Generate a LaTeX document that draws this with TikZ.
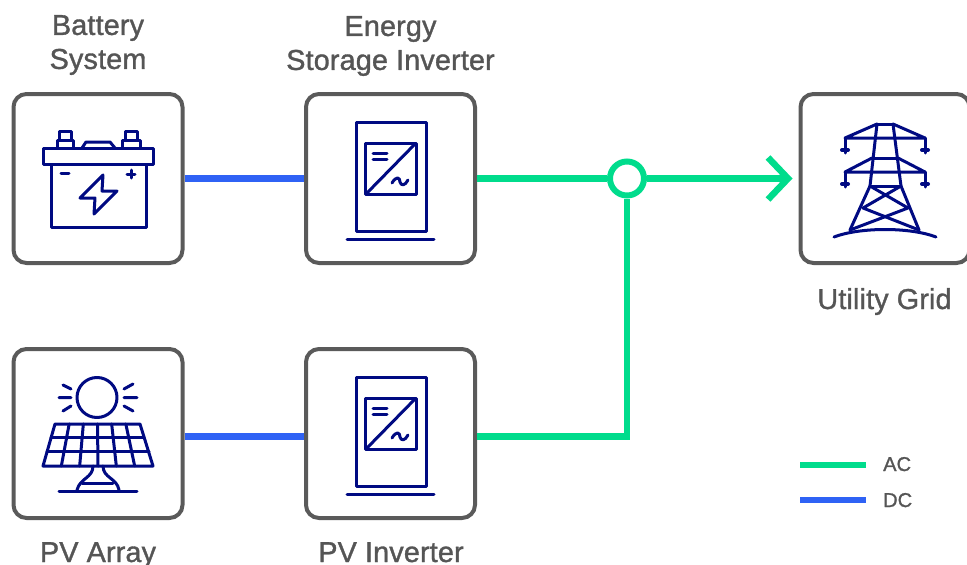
\documentclass[tikz,border=0pt]{standalone}
\usepackage{fontspec}
\setmainfont[FakeBold=1.2,LetterSpace=0.5]{Liberation Sans}
\usetikzlibrary{positioning,arrows.meta}
\definecolor{acgreen}{HTML}{00DC8C}
\definecolor{dcblue}{HTML}{2F62F5}
\definecolor{iconnavy}{HTML}{000A82}
\definecolor{boxgray}{HTML}{5A5A5A}
\definecolor{textgray}{HTML}{555555}
\tikzset{
  unit/.style={draw=boxgray,line width=4pt,rounded corners=13pt,minimum size=169pt,inner sep=0pt},
  caption/.style={text=textgray,font=\fontsize{28.8}{34}\selectfont,align=center,inner sep=0pt},
  keytext/.style={text=textgray,font=\fontsize{20}{24}\selectfont,inner sep=0pt,anchor=base west},
  acline/.style={acgreen,line width=6.5pt},
  dcline/.style={dcblue,line width=6.5pt},
  icon/.style={iconnavy,line width=3pt,line join=round,line cap=round},
}
% inverter icon, #1 is the vertical offset
\newcommand{\invertericon}[1]{
  \begin{scope}[icon,yshift=-#1pt]
    \draw (356,122) rectangle (426,231);
    \draw (365,143) rectangle (416,194);
    \draw (367,193) -- (415,144);
    \draw (373,153) -- (387,153);
    \draw (373,159) -- (387,159);
    \draw (392,183) .. controls (396,176) and (400,177) .. (400,182) .. controls (401,186) and (405,186) .. (408,180);
    \draw (347,239) -- (434,239);
  \end{scope}
}
\begin{document}
\begin{tikzpicture}[x=1pt,y=-1pt]
  \useasboundingbox (0,0) rectangle (967,565);
  \node[unit] (battery) at (98,178.5) {};
  \node[unit,right=119.5pt of battery] (storage) {};
  \node[unit,below=82pt of battery] (array) {};
  \node[unit,right=119.5pt of array] (pvinverter) {};
  \node[unit,right=321.5pt of storage] (grid) {};
  \node[caption] (batterytext) at (98,45) {Battery\\System};
  \node[caption] (storagetext) at (390.5,46) {Energy\\Storage Inverter};
  \node[caption,anchor=base] (gridtext) at (884.5,309) {Utility Grid};
  \node[caption,anchor=base] (arraytext) at (98,562) {PV Array};
  \node[caption,anchor=base] (invertertext) at (391,562) {PV Inverter};
  % connectors
  \node[draw=acgreen,line width=6pt,circle,fill=white,minimum size=34pt,inner sep=0pt] (junction) at (627,178.5) {};
  \draw[dcline] (battery.east) -- (storage.west);
  \draw[dcline] ([yshift=-3pt]array.east) -- ([yshift=-3pt]pvinverter.west);
  \draw[acline] (storage.east) -- (junction.west);
  \draw[acline] ([yshift=-3pt]pvinverter.east) -| (junction.south);
  \draw[acline,-{Straight Barb[length=20pt,width=42pt]},shorten >=6pt] (junction.east) -- (grid.west);
  % legend
  \coordinate (acstart) at (800,465);
  \coordinate[right=66pt of acstart] (acend);
  \coordinate (dcstart) at (800,500);
  \coordinate[right=66pt of dcstart] (dcend);
  \draw[acline] (acstart) -- (acend);
  \draw[dcline] (dcstart) -- (dcend);
  \node[keytext] (actext) at ([xshift=17pt,yshift=-6pt]acend) {AC};
  \node[keytext] (dctext) at ([xshift=17pt,yshift=-7pt]dcend) {DC};
  % battery icon
  \begin{scope}[icon]
    \draw (51,164) rectangle (146,227);
    \draw (43,148) rectangle (153,164);
    \draw (57,148) -- (57,140) -- (73,140) -- (73,148);
    \draw (59,140) -- (59,131) -- (71,131) -- (71,140);
    \draw (122,148) -- (122,140) -- (140,140) -- (140,148);
    \draw (125,140) -- (125,131) -- (137,131) -- (137,140);
    \draw (82,148) -- (86,142) -- (110,142) -- (115,148);
    \draw (61,173.5) -- (69,173.5);
    \draw (127,174) -- (135,174) (131,170) -- (131,178);
    \draw (103,175) -- (80,198) -- (95,198) -- (94,214) -- (117,191) -- (102,191) -- cycle;
  \end{scope}
  \invertericon{0}
  \invertericon{255}
  % tower icon
  \begin{scope}[icon]
    \draw (877,124) -- (893,124);
    \draw (877,124) -- (845,138) -- (925,138) -- (893,124);
    \draw (845,138) -- (845,153) (925,138) -- (925,153);
    \draw[line width=4pt] (842,150) -- (848,150) (922,150) -- (928,150);
    \draw (877,124) -- (870,186) -- (850,230);
    \draw (893,124) -- (901,186) -- (919,230);
    \draw (872,158) -- (898,158);
    \draw (872,158) -- (845,172) -- (925,172) -- (898,158);
    \draw (845,172) -- (845,187) (925,172) -- (925,187);
    \draw[line width=4pt] (842,184) -- (848,184) (922,184) -- (928,184);
    \draw (870,186) -- (901,186);
    \draw (870,186) -- (908,208) -- (850,230);
    \draw (901,186) -- (863,208) -- (919,230);
    \draw (834,237) .. controls (860,227) and (910,227) .. (936,237);
  \end{scope}
  % solar icon
  \begin{scope}[icon]
    \draw (97,397.5) circle (20pt);
    \draw (59,397.5) -- (71,397.5) (63,385) -- (71,389) (63,411) -- (71,406);
    \draw (124,397.5) -- (137,397.5) (124,389) -- (133,384) (124,406) -- (133,411);
    \draw (55,424) -- (140,424) -- (153,466) -- (43,466) -- cycle;
    \draw (51,437) -- (144,437) (47,451) -- (149,451);
    \foreach \col in {1,...,5} {
      \draw ({55+\col*85/6},424) -- ({43+\col*110/6},466);
    }
    \draw (93,466) .. controls (93,478) and (80,478) .. (77,490);
    \draw (103,466) .. controls (103,478) and (117,478) .. (119,490);
    \draw (82,483) -- (113,483);
    \draw (59,491) -- (137,491);
  \end{scope}
\end{tikzpicture}
\end{document}
